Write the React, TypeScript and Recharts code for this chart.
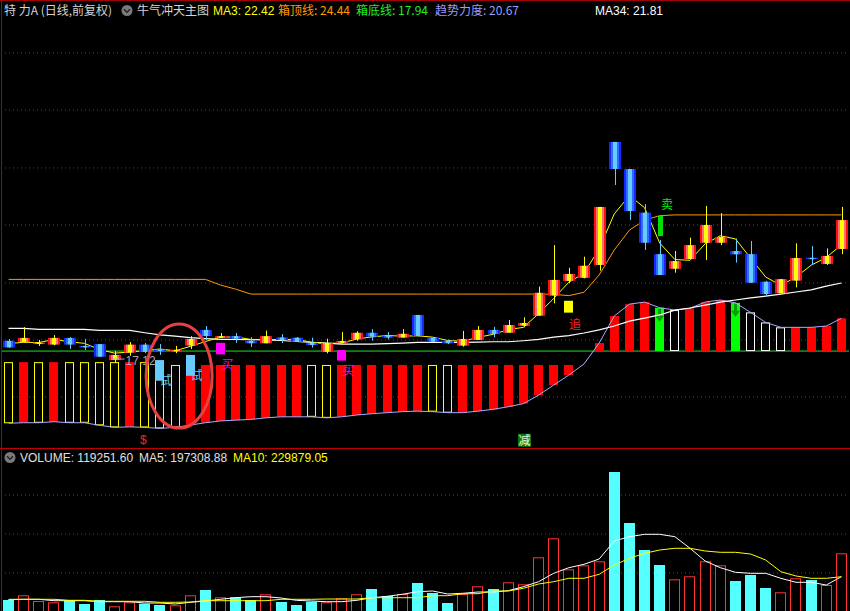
import React from 'react';
import { ComposedChart, Bar, Line, XAxis, YAxis, ReferenceLine, ReferenceDot } from 'recharts';

// ---- price data (one entry per trading day) ----
const opens = [19.56,19.51,19.45,19.41,19.67,19.36,19.43,18.81,19.10,19.41,19.22,19.15,19.37,19.98,19.67,19.74,19.56,19.46,19.69,19.68,19.48,19.13,19.48,19.61,19.87,19.74,19.68,20.56,19.68,19.56,19.37,19.59,19.98,19.87,20.14,20.53,21.31,21.88,22.00,22.50,27.27,26.22,24.53,22.92,22.35,22.73,23.36,23.36,23.04,22.92,21.85,21.40,21.89,22.78,22.54,23.12];
const closes = [19.30,19.67,19.49,19.67,19.41,19.30,18.94,19.01,19.41,19.13,19.18,19.21,19.63,19.74,19.74,19.64,19.46,19.74,19.59,19.52,19.39,19.46,19.55,19.87,19.72,19.68,19.83,19.74,19.52,19.46,19.63,19.98,19.82,20.17,20.25,21.42,21.92,22.15,22.47,24.75,26.22,24.59,23.36,22.11,22.65,23.27,24.05,23.58,22.91,21.81,21.37,21.95,22.77,22.74,22.85,24.24];
const highs = [19.63,20.09,19.59,19.78,19.70,19.63,19.43,19.16,19.51,19.47,19.43,19.36,19.74,20.13,19.86,19.86,19.70,19.95,19.82,19.70,19.68,19.64,19.90,19.93,20.01,19.90,20.01,20.56,19.68,19.61,19.94,20.13,20.10,20.36,20.47,21.66,23.27,22.39,22.82,24.75,27.27,26.22,24.86,23.47,23.04,23.56,24.79,24.51,23.53,23.43,21.88,21.95,23.34,23.23,23.14,24.75];
const lows = [19.28,19.51,19.36,19.39,19.24,19.20,18.93,18.70,18.98,19.08,19.01,19.08,19.24,19.59,19.67,19.48,19.32,19.46,19.47,19.51,19.30,19.07,19.46,19.56,19.56,19.61,19.68,19.74,19.52,19.43,19.33,19.59,19.69,19.87,20.08,20.53,21.01,21.79,21.98,22.28,25.60,24.24,23.08,22.11,22.20,22.73,22.69,23.27,22.59,21.80,21.29,21.40,21.63,22.50,22.50,22.92];

const ma3 = [19.45,19.50,19.49,19.61,19.52,19.46,19.22,19.08,19.12,19.18,19.24,19.17,19.34,19.53,19.70,19.71,19.61,19.61,19.60,19.62,19.50,19.46,19.47,19.63,19.71,19.76,19.74,19.75,19.70,19.57,19.54,19.69,19.81,19.99,20.08,20.61,21.20,21.83,22.18,23.12,24.48,25.19,24.72,23.35,22.71,22.68,23.32,23.63,23.51,22.77,22.03,21.71,22.03,22.49,22.79,23.28];
const ma34 = [20.04,20.04,20.00,20.00,20.00,20.00,19.96,19.96,19.96,19.87,19.79,19.74,19.68,19.64,19.61,19.61,19.60,19.59,19.57,19.53,19.50,19.47,19.43,19.43,19.43,19.45,19.47,19.50,19.50,19.50,19.50,19.51,19.52,19.52,19.56,19.61,19.70,19.76,19.86,19.98,20.13,20.32,20.44,20.56,20.75,20.83,20.94,21.06,21.14,21.22,21.29,21.37,21.45,21.53,21.68,21.80];
const boxTop = [21.94,21.94,21.94,21.94,21.94,21.94,21.94,21.94,21.94,21.94,21.94,21.94,21.94,21.94,21.72,21.56,21.37,21.37,21.37,21.37,21.37,21.37,21.37,21.37,21.37,21.37,21.37,21.37,21.37,21.37,21.37,21.37,21.37,21.37,21.37,21.37,21.36,21.31,21.44,22.11,23.08,23.85,24.24,24.41,24.44,24.44,24.44,24.44,24.44,24.44,24.44,24.44,24.44,24.44,24.44,24.44];
const boxBottomLevel = 19.16;

// trend strength indicator
const indVal = [16.36,16.38,16.38,16.42,16.38,16.38,16.28,16.20,16.22,16.20,16.16,16.20,16.29,16.38,16.45,16.48,16.51,16.57,16.61,16.61,16.61,16.57,16.61,16.68,16.73,16.77,16.81,16.83,16.81,16.77,16.77,16.83,16.90,17.00,17.12,17.45,17.84,18.23,18.66,19.47,20.52,20.98,21.06,20.84,20.75,20.82,21.06,21.14,21.03,20.66,20.27,20.08,20.08,20.08,20.13,20.43];
const indBase = [18.73,18.73,18.73,18.73,18.73,18.73,18.73,18.73,18.73,18.73,18.73,18.62,18.62,18.62,18.62,18.62,18.62,18.62,18.62,18.62,18.62,18.62,18.62,18.62,18.62,18.62,18.62,18.62,18.62,18.62,18.62,18.62,18.62,18.62,18.62,18.62,18.62,18.62,18.66,19.16,19.16,19.16,19.16,19.16,19.16,19.16,19.16,19.16,19.16,19.16,19.16,19.16,19.16,19.16,19.16,19.16];
const indKind = ['Y','R','Y','R','Y','Y','Y','Y','R','Y','Y','Y','R','R','R','R','R','R','R','R','Y','Y','R','R','R','R','R','R','Y','Y','R','R','R','R','R','R','R','R','-','R','R','R','R','G','W','R','R','R','G','W','W','W','R','R','R','R'];

const probes = [
  { i: 10, lo: 18.01, hi: 18.81 },
  { i: 12, lo: 18.20, hi: 19.01 },
];
const markers = [
  { i: 14, lo: 19.03, hi: 19.48, kind: 'buy' },
  { i: 22, lo: 18.79, hi: 19.20, kind: 'buy' },
  { i: 37, lo: 20.65, hi: 21.11, kind: 'chase' },
  { i: 43, lo: 23.62, hi: 24.41, kind: 'sell' },
];
const notes = [
  { i: 7, y: 18.85, kind: 'low', text: '17.12' },
  { i: 9, y: 15.72, kind: 'dollar', text: '$' },
  { i: 34, y: 15.70, kind: 'cut', text: '减' },
  { i: 11, y: 18.19, kind: 'ring', text: '' },
];
const gridLevels = [30.72, 28.51, 26.26, 24.05, 21.80, 19.59, 17.38];

// volume panel
const vol = [22000,31400,20000,17400,21400,14000,22000,9400,17400,14600,12000,11400,31400,42000,27400,27400,22000,33400,18000,12000,18600,17400,25400,33400,44000,30000,34000,56000,36000,16000,34000,49400,44000,57400,53400,107400,145400,83400,91400,99400,278000,176000,122000,92000,63400,69400,99400,91400,60000,72000,46000,37400,65400,62000,52000,115400];
const vol5 = [22600,23400,23400,20600,20600,20600,18600,18600,18600,16000,16000,14000,17400,20000,23400,26600,28600,28600,26000,21400,20000,18600,18600,21400,26600,29400,33400,38600,40000,34000,35400,38000,38000,40600,48600,58600,75400,86600,93400,104000,140000,148600,153400,153400,148600,125400,100000,86600,77400,75400,75400,65400,57400,57400,52000,68600];
const vol10 = [23400,23400,23400,23400,21400,21400,19400,19400,19400,19400,17400,17400,18000,20600,20600,20600,20600,20600,23400,23400,23400,24000,24000,24000,26600,26600,26600,26600,30600,30600,34600,34600,40000,40000,45400,54000,58600,65400,65400,73400,92000,105400,115400,122000,125400,125400,120000,117400,117400,114000,102000,78600,70000,65400,65400,68600];
const volGrid = [232000, 154000, 76000];

const rows: any[] = opens.map((o, i) => {
  const r: any = {
    i,
    o,
    c: closes[i],
    h: highs[i],
    l: lows[i],
    hl: [lows[i], highs[i]],
    ma3: ma3[i],
    ma34: ma34[i],
    box: boxTop[i],
    indLine: indVal[i],
    kind: indKind[i],
    ind: indKind[i] === '-' ? null : [Math.min(indBase[i], indVal[i]), Math.max(indBase[i], indVal[i])],
    pr: null,
    mk: null,
    mkKind: null,
  };
  return r;
});
probes.forEach((p) => { rows[p.i].pr = [p.lo, p.hi]; });
markers.forEach((m) => { rows[m.i].mk = [m.lo, m.hi]; rows[m.i].mkKind = m.kind; });

const volRows = vol.map((v, i) => ({ i, v, v5: vol5[i], v10: vol10[i], up: closes[i] >= opens[i] }));

const LATIN = "'Liberation Sans', 'Noto Sans CJK SC', sans-serif";
const CJK = "'Noto Sans CJK SC', 'Liberation Sans', sans-serif";

const ok = (n: any) => typeof n === 'number' && Number.isFinite(n);

function Candle(props: any) {
  const { x, y, width, height, payload } = props;
  if (!payload || !ok(x) || !ok(y) || !ok(height)) return null;
  const { o, c, h, l } = payload;
  const span = h - l;
  const yOf = (v: number) => (span > 0 ? y + ((h - v) / span) * height : y);
  const up = c >= o;
  const top = yOf(Math.max(o, c));
  const bot = yOf(Math.min(o, c));
  const bx = Math.round(x);
  const bw = Math.round(width);
  const wx = bx + Math.floor(bw / 2) + 0.5;
  return (
    <g>
      <line x1={wx} x2={wx} y1={y} y2={y + height} stroke={up ? '#ffff00' : '#66ccff'} strokeWidth={1} />
      <rect x={bx} y={top} width={bw} height={Math.max(1.5, bot - top)} fill={up ? 'url(#gUp)' : 'url(#gDn)'} />
    </g>
  );
}

function IndBar(props: any) {
  const { x, y, width, height, payload } = props;
  if (!payload || payload.kind === '-' || !payload.ind || !ok(y) || !ok(height)) return null;
  const k = payload.kind;
  const bx = Math.round(x);
  const bw = Math.round(width);
  const top = y;
  const h = height;
  if (k === 'Y' || k === 'W') {
    return <rect x={bx + 0.5} y={top + 0.5} width={bw - 1} height={Math.max(0, h - 1)} fill="#000" stroke={k === 'Y' ? '#ffff00' : '#ffffff'} strokeWidth={1} />;
  }
  if (k === 'G') {
    const cx = bx + bw / 2;
    return (
      <g>
        <rect x={bx} y={top} width={bw} height={h} fill="#00ff00" />
        <path d={`M${cx - 1.5},${top + 1} h3 v7 h3 l-4.5,6 l-4.5,-6 h3 z`} fill="#0b9a0b" />
      </g>
    );
  }
  return <rect x={bx} y={top} width={bw} height={h} fill="#ff0000" />;
}

function Probe(props: any) {
  const { x, y, width, height, payload } = props;
  if (!payload || !payload.pr || !ok(y) || !ok(height)) return null;
  const bx = Math.round(x);
  const bw = Math.round(width);
  return (
    <g>
      <rect x={bx} y={y} width={bw} height={height} fill="#66ccff" />
      <text x={bx + bw / 2} y={y + height + 4} fill="#66ccff" fontSize={12} fontFamily={CJK}>试</text>
    </g>
  );
}

function Marker(props: any) {
  const { x, y, width, height, payload } = props;
  if (!payload || !payload.mk || !ok(y) || !ok(height)) return null;
  const k = payload.mkKind;
  const bx = Math.round(x);
  const bw = Math.round(width);
  const cx = bx + bw / 2;
  if (k === 'sell') {
    return (
      <g>
        <rect x={Math.round(cx - 1.5)} y={y} width={5} height={height} fill="#00dd00" />
        <text x={cx + 1.5} y={y - 7} fill="#00ee00" fontSize={12} fontFamily={CJK}>卖</text>
      </g>
    );
  }
  if (k === 'chase') {
    return (
      <g>
        <rect x={bx} y={y} width={bw} height={height} fill="#ffff00" />
        <text x={cx + 0.5} y={y + height + 16} fill="#ff2020" fontSize={12} fontFamily={CJK}>追</text>
      </g>
    );
  }
  return (
    <g>
      <rect x={bx} y={y} width={bw} height={height} fill="#ff00ff" />
      <text x={cx + 1} y={y + height + 14.5} fill="#ff00ff" fontSize={12} fontFamily={CJK}>买</text>
    </g>
  );
}

function Note(n: any, p: any) {
  const cx = p.cx;
  const cy = p.cy;
  if (!ok(cx) || !ok(cy)) return <g />;
  if (n.kind === 'low') {
    return (
      <g>
        <line x1={cx - 1.5} x2={cx + 10} y1={cy} y2={cy} stroke="#a8a8a8" strokeWidth={1} />
        <text x={cx + 11} y={cy + 6} fill="#a8a8a8" fontSize={12} fontFamily={LATIN}>{n.text}</text>
      </g>
    );
  }
  if (n.kind === 'dollar') {
    return <text x={cx - 1.5} y={cy + 4} fill="#ff2020" fontSize={12} fontFamily={LATIN} textAnchor="middle">{n.text}</text>;
  }
  if (n.kind === 'cut') {
    return (
      <g>
        <rect x={cx - 5.5} y={cy - 6.5} width={13} height={13} fill="#0b7a0b" />
        <text x={cx + 1} y={cy + 4.5} fill="#e8ffe8" fontSize={12} fontFamily={CJK} textAnchor="middle">{n.text}</text>
      </g>
    );
  }
  return <ellipse cx={cx + 4} cy={cy} rx={33} ry={52} fill="none" stroke="#e84040" strokeWidth={3} />;
}

function Icon({ cx, cy }: any) {
  return (
    <g>
      <circle cx={cx} cy={cy} r={5.5} fill="#7a7a7a" />
      <path d={`M${cx - 3},${cy - 1.2} L${cx},${cy + 1.8} L${cx + 3},${cy - 1.2}`} stroke="#262626" strokeWidth={1.5} fill="none" />
    </g>
  );
}

export default function App() {
  return (
    <div style={{ position: 'absolute', left: 0, top: 0, width: 850, height: 611, background: '#000', overflow: 'hidden' }}>
      <div style={{ position: 'absolute', left: 0, top: 0 }}>
        <ComposedChart width={850} height={448} data={rows} margin={{ top: 20, right: 1, bottom: 0, left: 1 }}>
          <defs>
            <linearGradient id="gUp" x1="0" y1="0" x2="1" y2="0">
              <stop offset="0" stopColor="#ff1010" />
              <stop offset="0.17" stopColor="#ff1010" />
              <stop offset="0.17" stopColor="#ff7070" />
              <stop offset="0.34" stopColor="#ff7070" />
              <stop offset="0.34" stopColor="#ffff00" />
              <stop offset="0.66" stopColor="#ffff00" />
              <stop offset="0.66" stopColor="#ff7070" />
              <stop offset="0.83" stopColor="#ff7070" />
              <stop offset="0.83" stopColor="#ff1010" />
              <stop offset="1" stopColor="#ff1010" />
            </linearGradient>
            <linearGradient id="gDn" x1="0" y1="0" x2="1" y2="0">
              <stop offset="0" stopColor="#1428ff" />
              <stop offset="0.17" stopColor="#1428ff" />
              <stop offset="0.17" stopColor="#2f6cff" />
              <stop offset="0.34" stopColor="#2f6cff" />
              <stop offset="0.34" stopColor="#66ccff" />
              <stop offset="0.66" stopColor="#66ccff" />
              <stop offset="0.66" stopColor="#2f6cff" />
              <stop offset="0.83" stopColor="#2f6cff" />
              <stop offset="0.83" stopColor="#1428ff" />
              <stop offset="1" stopColor="#1428ff" />
            </linearGradient>
          </defs>
          <XAxis dataKey="i" hide />
          <XAxis xAxisId="ib" dataKey="i" hide />
          <XAxis xAxisId="pb" dataKey="i" hide />
          <XAxis xAxisId="mb" dataKey="i" hide />
          <YAxis hide domain={[15.4, 32]} allowDataOverflow type="number" />
          {gridLevels.map((v) => (
            <ReferenceLine key={v} y={v} stroke="#a82020" strokeDasharray="1 3" strokeWidth={1} zIndex={10} />
          ))}
          <ReferenceLine y={boxBottomLevel} stroke="#22e022" strokeWidth={1} zIndex={20} />
          <Bar xAxisId="ib" dataKey="ind" barSize={9} shape={IndBar} isAnimationActive={false} zIndex={100} />
          <Bar xAxisId="pb" dataKey="pr" barSize={9} shape={Probe} isAnimationActive={false} zIndex={110} />
          <Line dataKey="indLine" type="linear" stroke="#a8acff" strokeWidth={1} dot={false} activeDot={false} isAnimationActive={false} zIndex={120} />
          <Line dataKey="box" type="linear" stroke="#ff9900" strokeWidth={1} dot={false} activeDot={false} isAnimationActive={false} zIndex={130} />
          <Line dataKey="ma34" type="linear" stroke="#ffffff" strokeWidth={1.2} dot={false} activeDot={false} isAnimationActive={false} zIndex={140} />
          <Line dataKey="ma3" type="linear" stroke="#ffff00" strokeWidth={1} dot={false} activeDot={false} isAnimationActive={false} zIndex={150} />
          <Bar dataKey="hl" barSize={12} shape={Candle} isAnimationActive={false} zIndex={200} />
          <Bar xAxisId="mb" dataKey="mk" barSize={9} shape={Marker} isAnimationActive={false} zIndex={300} />
          {notes.map((n) => (
            <ReferenceDot key={n.kind} x={n.i} y={n.y} r={0} ifOverflow="visible" shape={(p: any) => Note(n, p)} zIndex={400} />
          ))}
        </ComposedChart>
      </div>
      <div style={{ position: 'absolute', left: 0, top: 448 }}>
        <ComposedChart width={850} height={163} data={volRows} margin={{ top: 0, right: 1, bottom: 0, left: 1 }}>
          <XAxis dataKey="i" hide />
          <YAxis hide domain={[0, 326000]} allowDataOverflow type="number" />
          {volGrid.map((v) => (
            <ReferenceLine key={v} y={v} stroke="#a82020" strokeDasharray="1 3" strokeWidth={1} zIndex={10} />
          ))}
          <Bar
            dataKey="v"
            barSize={11}
            isAnimationActive={false}
            zIndex={100}
            shape={(p: any) => {
              if (!p.payload || !ok(p.y) || !ok(p.height)) return null;
              const bx = Math.round(p.x);
              const bw = Math.round(p.width);
              if (p.payload.up) {
                return <rect x={bx + 0.5} y={p.y + 0.5} width={bw - 1} height={Math.max(0, p.height)} fill="#000" stroke="#ff3333" strokeWidth={1} />;
              }
              return <rect x={bx} y={p.y} width={bw} height={p.height} fill="#55ffff" />;
            }}
          />
          <Line dataKey="v5" type="linear" stroke="#ffffff" strokeWidth={1} dot={false} activeDot={false} isAnimationActive={false} zIndex={200} />
          <Line dataKey="v10" type="linear" stroke="#ffff00" strokeWidth={1} dot={false} activeDot={false} isAnimationActive={false} zIndex={210} />
        </ComposedChart>
      </div>
      <svg width={850} height={611} style={{ position: 'absolute', left: 0, top: 0, pointerEvents: 'none' }}>
        <line x1={0} x2={850} y1={0.5} y2={0.5} stroke="#a00000" />
        <line x1={1.5} x2={1.5} y1={0} y2={611} stroke="#b00000" />
        <line x1={0} x2={850} y1={448.5} y2={448.5} stroke="#c00000" />
        <text x={4} y={15} fill="#d4d4d4" fontSize={12} fontFamily={CJK}>特 力A (日线,前复权)</text>
        <Icon cx={127} cy={10.5} />
        <text x={137} y={15} fill="#d4d4d4" fontSize={12} fontFamily={CJK}>牛气冲天主图</text>
        <text x={213} y={15} fill="#ffff00" fontSize={12} fontFamily={LATIN}>MA3: 22.42</text>
        <text x={278} y={15} fill="#ff9900" fontSize={12} fontFamily={CJK}>箱顶线: 24.44</text>
        <text x={356} y={15} fill="#22ee22" fontSize={12} fontFamily={CJK}>箱底线: 17.94</text>
        <text x={435} y={15} fill="#9a9aff" fontSize={12} fontFamily={CJK}>趋势力度: 20.67</text>
        <text x={595} y={15} fill="#ffffff" fontSize={12} fontFamily={LATIN}>MA34: 21.81</text>
        <Icon cx={10} cy={457.5} />
        <text x={20} y={462} fill="#e0e0e0" fontSize={12} fontFamily={LATIN}>VOLUME: 119251.60</text>
        <text x={139} y={462} fill="#e0e0e0" fontSize={12} fontFamily={LATIN}>MA5: 197308.88</text>
        <text x={233} y={462} fill="#ffff00" fontSize={12} fontFamily={LATIN}>MA10: 229879.05</text>
      </svg>
    </div>
  );
}
